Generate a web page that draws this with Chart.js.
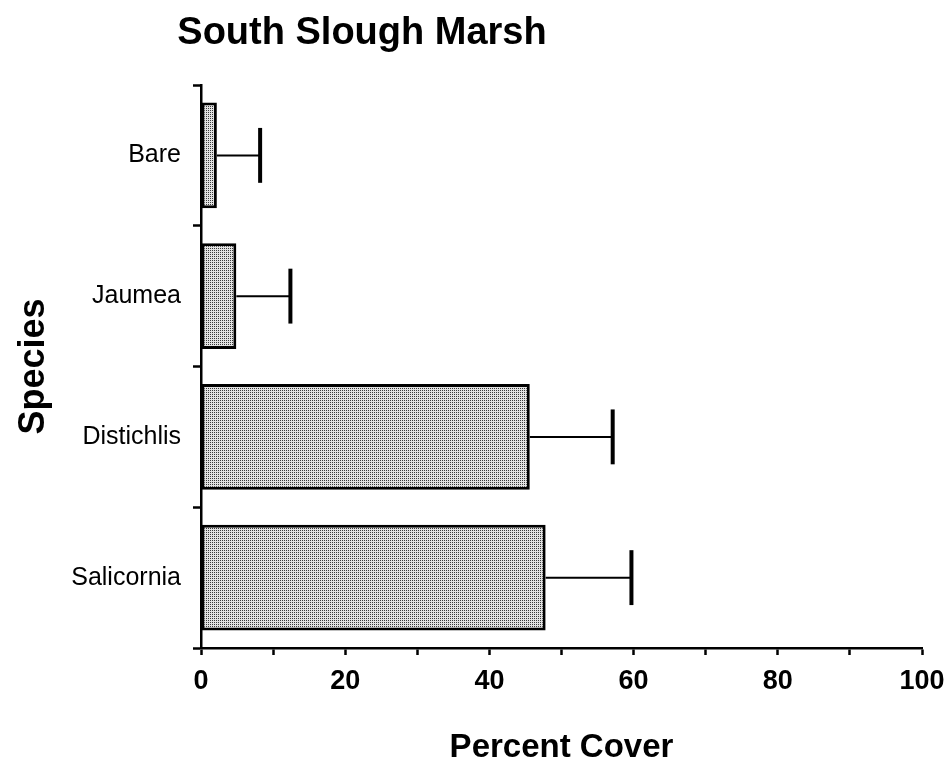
<!DOCTYPE html>
<html>
<head>
<meta charset="utf-8">
<script src="https://cdn.jsdelivr.net/npm/chart.js@4/dist/chart.umd.min.js"></script>
<style>
  html, body { margin: 0; padding: 0; background: #ffffff; }
  #wrap { width: 951px; height: 770px; position: relative; }
</style>
</head>
<body>
<div id="wrap"><canvas id="c" width="951" height="770"></canvas></div>
<script>
// ---- data ----
const chartTitle = "South Slough Marsh";
const categories = ["Bare", "Jaumea", "Distichlis", "Salicornia"];
const coverMeans = [2.2, 4.9, 45.6, 47.8];
const coverErrors = [6.0, 7.5, 11.5, 11.9];
const xTickValues = [0, 20, 40, 60, 80, 100];
const xAxisTitle = "Percent Cover";
const yAxisTitle = "Species";

const FONT = "'Liberation Sans', Arial, Helvetica, sans-serif";

// stipple pattern for bars
function makePattern() {
  const p = document.createElement('canvas');
  p.width = 2; p.height = 2;
  const g = p.getContext('2d');
  g.fillStyle = '#e2e2e2';
  g.fillRect(0, 0, 2, 2);
  g.fillStyle = '#3a3a3a';
  g.fillRect(0, 0, 1, 1);
  return g.createPattern(p, 'repeat');
}

const errorBarPlugin = {
  id: 'errorBars',
  afterDatasetsDraw(chart) {
    const ctx = chart.ctx;
    const xs = chart.scales.x, ys = chart.scales.y;
    const meta = chart.getDatasetMeta(0);
    ctx.save();
    ctx.strokeStyle = '#000';
    coverMeans.forEach((v, i) => {
      const y = ys.getPixelForValue(i);
      const x0 = xs.getPixelForValue(v);
      const x1 = xs.getPixelForValue(v + coverErrors[i]);
      const bh = meta.data[i].height;
      ctx.lineWidth = 2;
      ctx.beginPath();
      ctx.moveTo(x0, y);
      ctx.lineTo(x1, y);
      ctx.stroke();
      ctx.lineWidth = 4;
      ctx.beginPath();
      ctx.moveTo(x1, y - bh * 0.26);
      ctx.lineTo(x1, y + bh * 0.26);
      ctx.stroke();
    });
    ctx.restore();
  }
};

const titlePlugin = {
  id: 'freeTitle',
  afterDraw(chart) {
    const ctx = chart.ctx;
    ctx.save();
    ctx.fillStyle = '#000';
    ctx.font = "bold 38px " + FONT;
    ctx.textAlign = 'center';
    ctx.textBaseline = 'middle';
    ctx.fillText(chartTitle, 362, 34);
    ctx.restore();
  }
};

new Chart(document.getElementById('c'), {
  type: 'bar',
  data: {
    labels: categories,
    datasets: [{
      data: coverMeans,
      backgroundColor: makePattern(),
      borderColor: '#000',
      borderWidth: 3,
      borderSkipped: false,
      barPercentage: 0.75,
      categoryPercentage: 1.0
    }]
  },
  options: {
    indexAxis: 'y',
    responsive: false,
    animation: false,
    devicePixelRatio: 1,
    layout: { padding: { top: 85, right: 29, left: 0, bottom: 0 } },
    plugins: {
      legend: { display: false },
      tooltip: { enabled: false },
      title: { display: false }
    },
    scales: {
      x: {
        type: 'linear',
        min: 0, max: 100,
        afterFit(s) { s.height = 122; s.paddingLeft = 0; s.paddingRight = 0; },
        afterBuildTicks(s) {
          const t = [];
          for (let v = 0; v <= 100; v += 10) t.push({ value: v });
          s.ticks = t;
        },
        ticks: {
          autoSkip: false,
          maxRotation: 0,
          color: '#000',
          padding: 10,
          font: { family: FONT, size: 27, weight: 'bold' },
          callback: (v) => xTickValues.includes(v) ? String(v) : ''
        },
        grid: {
          drawOnChartArea: false,
          drawTicks: true,
          tickLength: 7,
          tickWidth: 2.5,
          tickColor: '#000'
        },
        border: { display: true, color: '#000', width: 2.5 },
        title: {
          display: true,
          text: xAxisTitle,
          color: '#000',
          font: { family: FONT, size: 33, weight: 'bold' },
          padding: { top: 0, bottom: 2 }
        }
      },
      y: {
        afterFit(s) { s.width = 201; s.paddingTop = 0; s.paddingBottom = 0; },
        ticks: {
          color: '#000',
          padding: 12,
          font: { family: FONT, size: 25 }
        },
        grid: {
          offset: true,
          drawOnChartArea: false,
          drawTicks: true,
          tickLength: 8,
          tickWidth: 2.5,
          tickColor: '#000'
        },
        border: { display: true, color: '#000', width: 2.5 },
        title: {
          display: true,
          text: yAxisTitle,
          color: '#000',
          font: { family: FONT, size: 36, weight: 'bold' },
          padding: { top: 12, bottom: 0 }
        }
      }
    }
  },
  plugins: [errorBarPlugin, titlePlugin]
});
</script>
</body>
</html>
